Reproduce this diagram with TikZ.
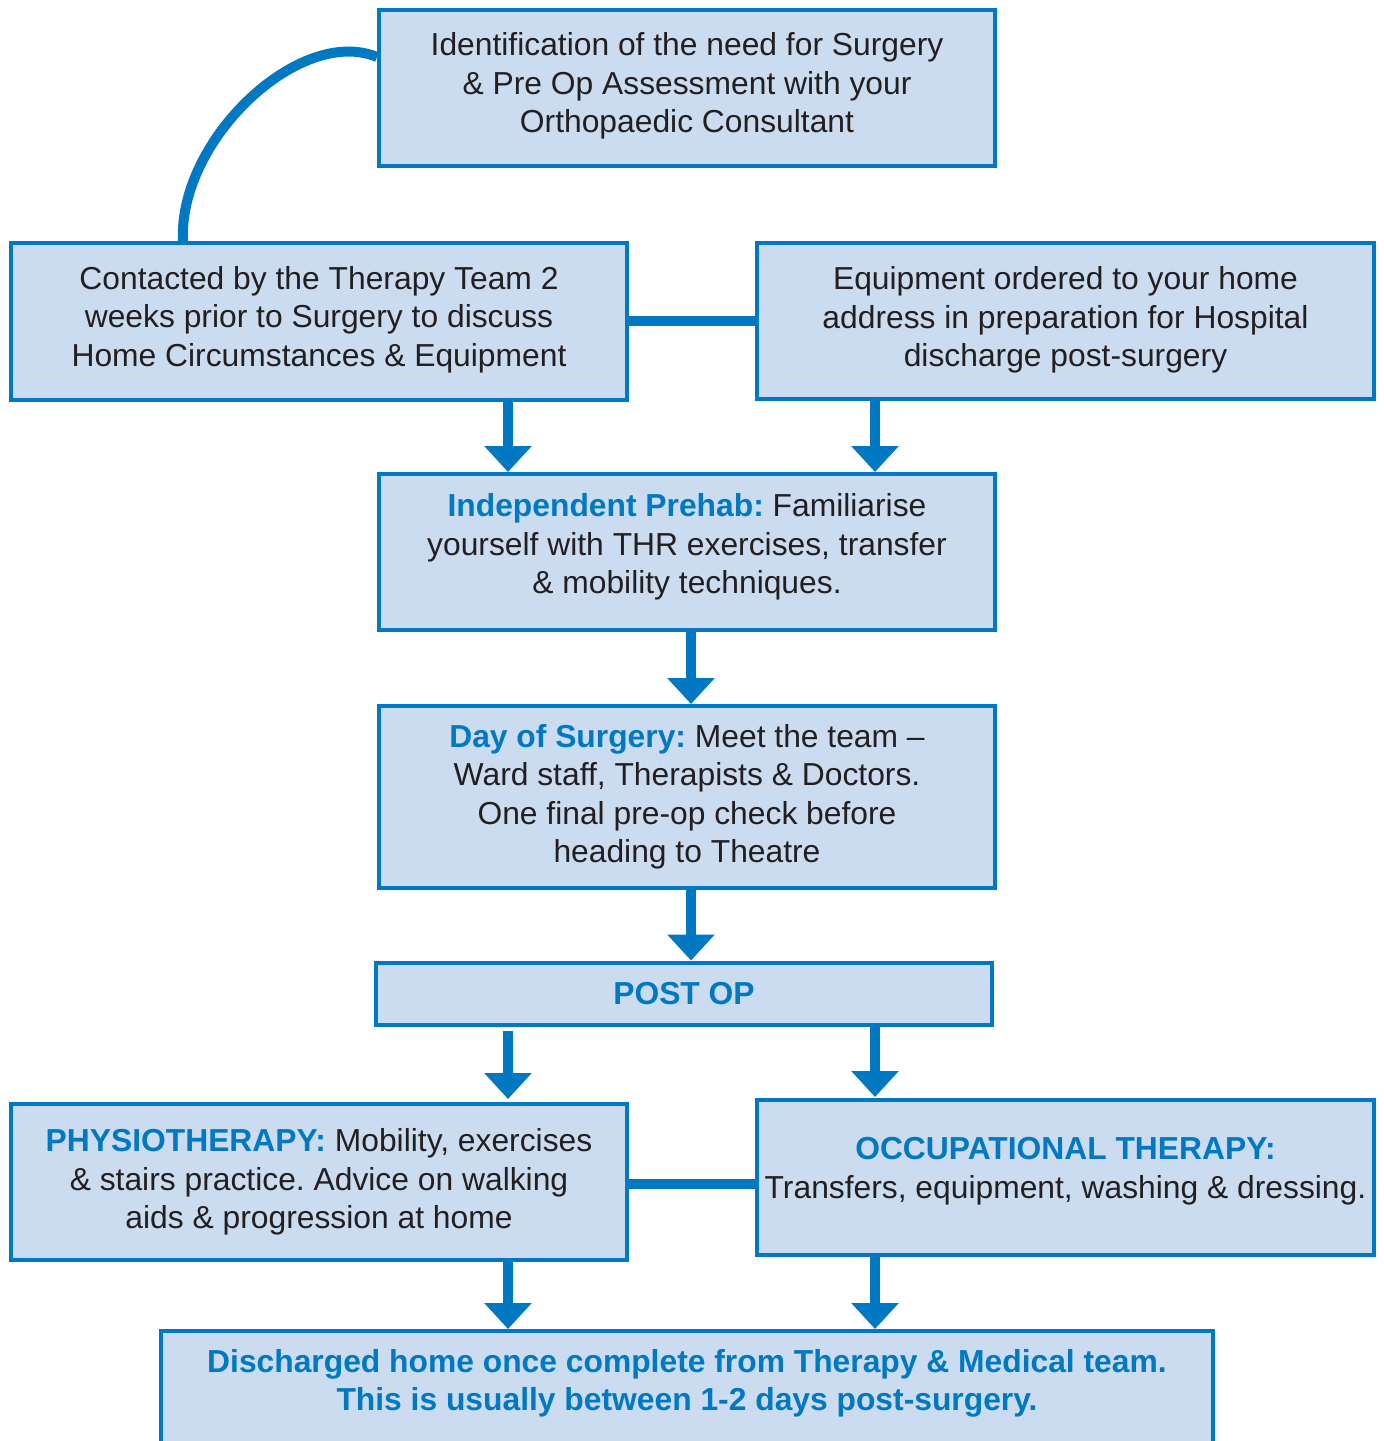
\documentclass[tikz,border=0pt]{standalone}
\usepackage{fontspec}
\setmainfont{Liberation Sans}
\usetikzlibrary{arrows.meta}
\definecolor{nhsblue}{HTML}{0079C2}
\definecolor{boxfill}{HTML}{CBDCF0}
\definecolor{txt}{HTML}{231F20}
\tikzset{
  flowbox/.style={draw=nhsblue, fill=boxfill, line width=4pt, align=center,
    text=txt, inner sep=0pt, font=\fontsize{31.8}{38.5}\selectfont},
  flowarrow/.style={draw=nhsblue, line width=10pt,
    -{Triangle[width=46pt,length=26pt]}},
  flowlink/.style={draw=nhsblue, line width=10pt}
}
\newcommand{\hb}[1]{\textcolor{nhsblue}{\textbf{#1}}}
\newcommand{\lift}[1]{\rule[-#1]{0pt}{0pt}}
\begin{document}
\frenchspacing
\begin{tikzpicture}[x=1pt,y=-1pt]
\useasboundingbox (0,0) rectangle (1384,1441);
\clip (0,0) rectangle (1384,1441);
\fill[white] (0,0) rectangle (1384,1441);

\node[flowbox, minimum width=616pt, minimum height=156pt] (A) at (687,88)
  {Identification of the need for Surgery\\ \& Pre Op Assessment with your\\ Orthopaedic Consultant\lift{11pt}};
\node[flowbox, minimum width=616pt, minimum height=157pt] (B) at (319,321.5)
  {Contacted by the Therapy Team 2\\ weeks prior to Surgery to discuss\\ Home Circumstances \& Equipment\lift{11pt}};
\node[flowbox, minimum width=617pt, minimum height=156pt] (C) at (1065.5,321)
  {Equipment ordered to your home\\ address in preparation for Hospital\\ discharge post-surgery\lift{9pt}};
\node[flowbox, minimum width=616pt, minimum height=156pt] (D) at (687,552)
  {\hb{Independent Prehab:} Familiarise\\ yourself with THR exercises, transfer\\ \& mobility techniques.\lift{17pt}};
\node[flowbox, minimum width=616pt, minimum height=182pt] (E) at (687,797)
  {\hb{Day of Surgery:} Meet the team --\\ Ward staff, Therapists \& Doctors.\\ One final pre-op check before\\ heading to Theatre};
\node[flowbox, minimum width=616pt, minimum height=62pt] (F) at (684,993.5)
  {\hb{POST OP}};
\node[flowbox, minimum width=616pt, minimum height=156pt] (G) at (319,1182)
  {\hb{PHYSIOTHERAPY:} Mobility, exercises\\ \& stairs practice. Advice on walking\\ aids \& progression at home};
\node[flowbox, minimum width=617pt, minimum height=155pt] (H) at (1065.5,1177.5)
  {\hb{OCCUPATIONAL THERAPY:}\\ Transfers, equipment, washing \& dressing.\lift{19pt}};
\node[flowbox, anchor=north, minimum width=1052pt, inner ysep=18pt] (I) at (687,1329)
  {\hb{Discharged home once complete from Therapy \& Medical team.}\\
   \hb{This is usually between 1-2 days post-surgery.}\lift{90pt}};

\coordinate (xl) at (508,0);
\coordinate (xr) at (875,0);
\coordinate (xm) at (691,0);
\coordinate (xc) at (183,0);
\coordinate (ya) at (0,57);
\coordinate (ybc) at (0,321);
\coordinate (ygh) at (0,1184);

% curved link
\draw[flowlink] (B.north -| xc) .. controls (178,140) and (300,25) .. (A.west |- ya);

% horizontal links
\draw[flowlink] (B.east |- ybc) -- (C.west |- ybc);
\draw[flowlink] (G.east |- ygh) -- (H.west |- ygh);

% arrows
\draw[flowarrow] (B.south -| xl) -- (D.north -| xl);
\draw[flowarrow] (C.south -| xr) -- (D.north -| xr);
\draw[flowarrow] (D.south -| xm) -- (E.north -| xm);
\draw[flowarrow] (E.south -| xm) -- (F.north -| xm);
\draw[flowarrow, shorten <=4pt, shorten >=3pt] (F.south -| xl) -- (G.north -| xl);
\draw[flowarrow, shorten >=1pt] (F.south -| xr) -- (H.north -| xr);
\draw[flowarrow] (G.south -| xl) -- (I.north -| xl);
\draw[flowarrow] (H.south -| xr) -- (I.north -| xr);
\end{tikzpicture}
\end{document}
